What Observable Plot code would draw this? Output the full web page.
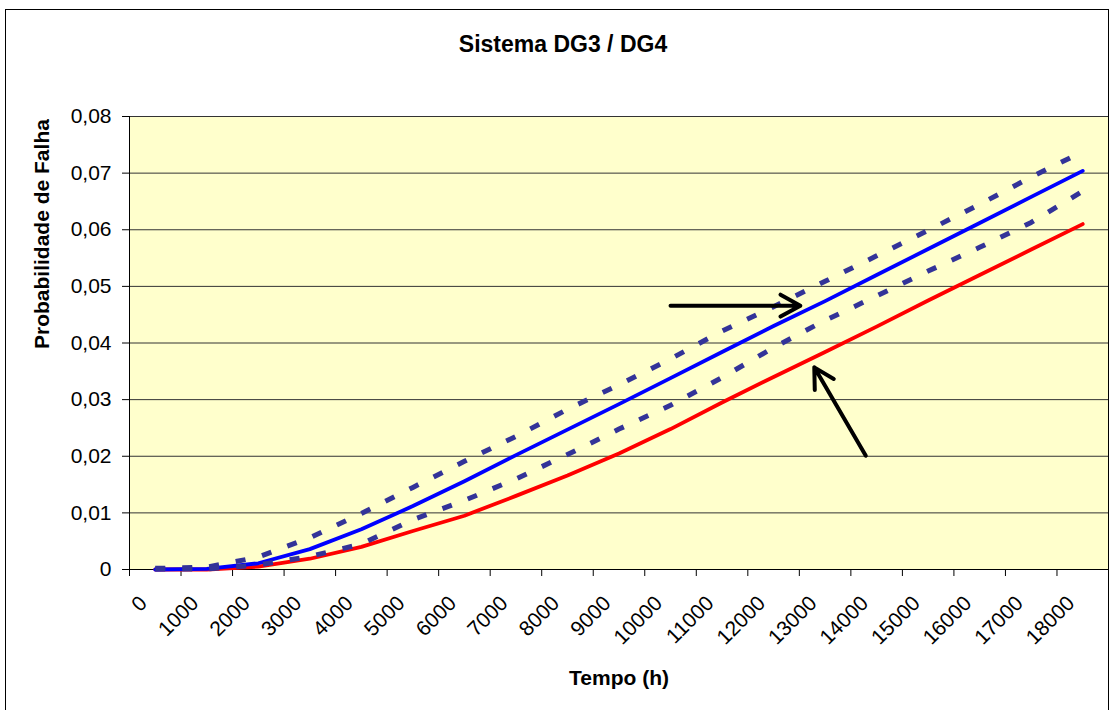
<!DOCTYPE html>
<html>
<head>
<meta charset="utf-8">
<script src="https://cdn.jsdelivr.net/npm/d3@7"></script>
<script src="https://cdn.jsdelivr.net/npm/@observablehq/plot@0.6"></script>
<style>
  html, body { margin: 0; padding: 0; background: #fff; }
  #wrap { position: relative; width: 1112px; height: 710px; overflow: hidden; font-family: "Liberation Sans", Arial, sans-serif; }
  #border { position: absolute; left: 5px; top: 9px; width: 1104px; height: 720px; border: 1px solid #000; box-sizing: border-box; pointer-events: none; }
  #chart { position: absolute; left: 0; top: 0; }
</style>
</head>
<body>
<div id="wrap"><div id="chart"></div><div id="border"></div></div>
<script>
// Categories (Tempo, h)
const tempo = [0,1000,2000,3000,4000,5000,6000,7000,8000,9000,10000,11000,12000,13000,14000,15000,16000,17000,18000];
// Series values (Probabilidade de Falha)
const azul = [0,0.0001,0.0011,0.0036,0.0071,0.0112,0.0156,0.0202,0.0247,0.0292,0.0338,0.0384,0.0430,0.0474,0.0520,0.0566,0.0612,0.0658,0.0704];
const vermelho = [0,0,0.0005,0.0019,0.0040,0.0068,0.0095,0.0130,0.0166,0.0205,0.0248,0.0295,0.0340,0.0384,0.0429,0.0475,0.0520,0.0565,0.0610];
const limiteSuperior = [0.0002,0.0004,0.0022,0.0056,0.0099,0.0145,0.0191,0.0235,0.0283,0.0326,0.0372,0.0421,0.0464,0.0509,0.0554,0.0599,0.0645,0.0693,0.0738];
const limiteInferior = [0.0001,0.0001,0.0008,0.0023,0.0045,0.0088,0.0122,0.0160,0.0203,0.0248,0.0290,0.0339,0.0392,0.0440,0.0483,0.0527,0.0569,0.0613,0.0668];
// Y tick values
const yTicks = [0,0.01,0.02,0.03,0.04,0.05,0.06,0.07,0.08];
// Category boundaries (tick marks between categories)
const xBoundaries = [-500,500,1500,2500,3500,4500,5500,6500,7500,8500,9500,10500,11500,12500,13500,14500,15500,16500,17500,18500];
// Annotation arrows (data coordinates)
const setas = [
  {x1: 10000, y1: 0.0466, x2: 12520, y2: 0.0466},
  {x1: 13790, y1: 0.0201, x2: 12790, y2: 0.0357}
];
// Texts
const titulo = "Sistema DG3 / DG4";
const tituloY = "Probabilidade de Falha";
const tituloX = "Tempo (h)";

const mk = (vals) => tempo.map((t, i) => ({t, v: vals[i]}));
const fmt = d => d === 0 ? "0" : d.toFixed(2).replace(".", ",");
const font = "Liberation Sans, Arial, sans-serif";

const chart = Plot.plot({
  width: 1112,
  height: 710,
  marginLeft: 129,
  marginRight: 4,
  marginTop: 116,
  marginBottom: 141,
  style: {fontFamily: font, background: "transparent", overflow: "visible"},
  x: {type: "linear", domain: [-500, 18500], axis: null},
  y: {type: "linear", domain: [0, 0.08], axis: null},
  marks: [
    Plot.frame({fill: "#FFFFCC", stroke: "#808080"}),
    Plot.gridY(yTicks.filter(d => d > 0), {stroke: "#333333", strokeOpacity: 1, strokeWidth: 1}),
    Plot.ruleX([-500], {stroke: "#000"}),
    Plot.ruleY([0], {stroke: "#000"}),
    // y ticks
    Plot.axisY({ticks: yTicks, tickFormat: () => "", tickSize: 7, label: null, stroke: "#000"}),
    Plot.text(yTicks, {x: () => -500, y: d => d, text: fmt, textAnchor: "end", lineAnchor: "middle", dx: -18, fontSize: 21, fill: "#000"}),
    // x ticks
    Plot.axisX({ticks: xBoundaries, tickFormat: () => "", tickSize: 7, label: null, stroke: "#000"}),
    Plot.text(tempo, {x: d => d, y: () => 0, text: d => String(d), rotate: -45, textAnchor: "end", lineAnchor: "bottom", dx: -7, dy: 35, fontSize: 21, fill: "#000"}),
    // series
    Plot.line(mk(vermelho), {x: "t", y: "v", stroke: "#FF0000", strokeWidth: 3.8}),
    Plot.line(mk(azul), {x: "t", y: "v", stroke: "#0000FF", strokeWidth: 3.8}),
    Plot.line(mk(limiteSuperior), {x: "t", y: "v", stroke: "#333399", strokeWidth: 5, strokeDasharray: "10,17", strokeLinecap: "butt"}),
    Plot.line(mk(limiteInferior), {x: "t", y: "v", stroke: "#333399", strokeWidth: 5, strokeDasharray: "10,17", strokeLinecap: "butt"}),
    Plot.arrow(setas, {x1: "x1", y1: "y1", x2: "x2", y2: "y2", stroke: "#000", strokeWidth: 4, headLength: 8.5, headAngle: 58}),
    // titles
    Plot.text([titulo], {frameAnchor: "top", dx: -56, dy: -72, lineAnchor: "middle", fontSize: 23, fontWeight: "bold", fill: "#000"}),
    Plot.text([tituloY], {frameAnchor: "left", rotate: -90, dx: -87, dy: 6, lineAnchor: "middle", fontSize: 21, fontWeight: "bold", fill: "#000"}),
    Plot.text([tituloX], {frameAnchor: "bottom", dy: 109, lineAnchor: "middle", fontSize: 21, fontWeight: "bold", fill: "#000"})
  ]
});
document.getElementById("chart").appendChild(chart);
</script>
</body>
</html>
